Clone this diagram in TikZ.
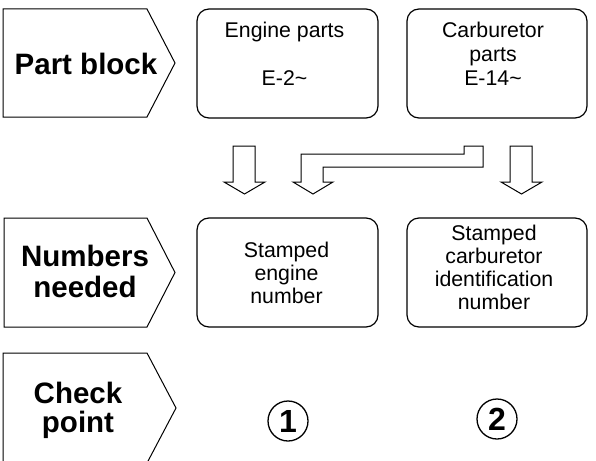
\documentclass[tikz,border=0pt]{standalone}
\usepackage{fontspec}
\setmainfont{Liberation Sans}
\begin{document}
\begin{tikzpicture}[x=1pt,y=-1pt,
  tagtxt/.style={font=\bfseries\fontsize{29.5}{30}\selectfont, align=center, inner sep=0pt},
  boxtxt/.style={font=\fontsize{21.3}{24}\selectfont, align=center, inner sep=0pt},
  roundbox/.style={draw, line width=1.2pt, rounded corners=12pt, minimum height=109pt, inner sep=0pt},
  tagshape/.style={draw, line width=1pt, line join=miter},
  hollowarrow/.style={draw, line width=1pt, fill=white, line join=miter},
  numcircle/.style={draw, circle, line width=1.3pt, minimum size=40pt, inner sep=0pt, font=\bfseries\fontsize{32}{32}\selectfont}
]
\useasboundingbox (0,0) rectangle (596,460);

% left tags
\draw[tagshape] (3,9) -- (147,9) -- (175,63) -- (147,117) -- (3,117) -- cycle;
\node[tagtxt] (partblock) at (86,64) {Part block};
\draw[tagshape] (4,218) -- (147,218) -- (175,272.5) -- (147,327) -- (4,327) -- cycle;
\node[tagtxt, font=\bfseries\fontsize{29.5}{31}\selectfont] (numneeded) at (85,271) {Numbers\\needed};
\draw[tagshape] (3,353) -- (147,353) -- (176,408) -- (147,463) -- (3,463) -- cycle;
\node[tagtxt, font=\bfseries\fontsize{29.5}{29}\selectfont] (checkpoint) at (78,410) {Check\\point};

% row 1 boxes
\node[roundbox, minimum width=181pt] (eng) at (287.5,63.5) {};
\node[boxtxt] (engtxt) at (284.5,53.5) {Engine parts\\[24pt]E-2\textasciitilde};
\node[roundbox, minimum width=180pt] (carb) at (497,63.5) {};
\node[boxtxt] (carbtxt) at (493,53.5) {Carburetor\\parts\\E-14\textasciitilde};

% row 2 boxes
\node[roundbox, minimum width=181pt] (seng) at (287.5,272.5) {};
\node[boxtxt, font=\fontsize{21.3}{23}\selectfont] (sengtxt) at (286.5,272.5) {Stamped\\engine\\number};
\node[roundbox, minimum width=180pt] (scarb) at (497,272.5) {};
\node[boxtxt, font=\fontsize{21.3}{23}\selectfont] (scarbtxt) at (494,267) {Stamped\\carburetor\\identification\\number};

% hollow arrows
\draw[hollowarrow] (233,146) -- (255,146) -- (255,182) -- (265,182) -- (244.5,194) -- (224,182) -- (233,182) -- cycle;
\draw[hollowarrow] (464,146) -- (483,146) -- (483,167) -- (323,167) -- (323,182) -- (333,182) -- (313,194) -- (293,182) -- (301,182) -- (301,154) -- (464,154) -- cycle;
\draw[hollowarrow] (510,146) -- (532,146) -- (532,182) -- (542,182) -- (521.5,194) -- (501,182) -- (510,182) -- cycle;

% check points
\node[numcircle] (c1) at (288,421) {1};
\node[numcircle] (c2) at (497,419) {2};
\end{tikzpicture}
\end{document}
